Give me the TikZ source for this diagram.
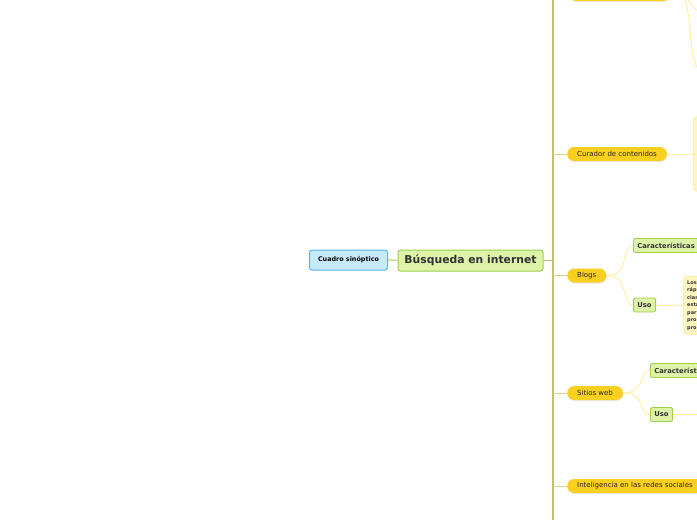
\documentclass[tikz,border=0pt]{standalone}
\usepackage{fontspec}
\setmainfont{DejaVu Sans}
\usetikzlibrary{positioning, shadows}
\definecolor{trunkOlive}{RGB}{198,191,100}
\definecolor{stemOlive}{RGB}{214,208,140}
\definecolor{pillYellow}{RGB}{250,208,32}
\definecolor{leafYellow}{RGB}{255,238,160}
\definecolor{noteFill}{RGB}{255,245,192}
\definecolor{noteEdge}{RGB}{250,234,160}
\definecolor{greenFill}{RGB}{222,242,168}
\definecolor{greenEdge}{RGB}{160,206,84}
\definecolor{blueFill}{RGB}{198,234,252}
\definecolor{blueEdge}{RGB}{92,180,230}
\definecolor{inkGray}{RGB}{51,51,51}

\tikzset{
  mainbox/.style={draw=greenEdge, fill=greenFill, line width=1pt, rounded corners=2.5pt,
    minimum width=145pt, minimum height=21pt, inner sep=0pt, text=inkGray,
    font=\fontsize{10.8}{12}\selectfont\bfseries},
  rootbox/.style={draw=blueEdge, fill=blueFill, line width=1pt, rounded corners=2.5pt,
    minimum width=78pt, minimum height=20pt, inner sep=0pt, text=black,
    font=\fontsize{6.4}{7.5}\selectfont\bfseries},
  topicpill/.style={fill=pillYellow, rounded corners=7pt, minimum height=14pt, inner xsep=10pt,
    inner ysep=0pt, anchor=west, text=black!85, font=\fontsize{7}{8}\selectfont,
    drop shadow={opacity=0.18, shadow xshift=0.6pt, shadow yshift=-1pt}},
  subbox/.style={draw=greenEdge, fill=greenFill, line width=0.8pt, rounded corners=2pt,
    minimum height=14pt, inner xsep=4pt, inner ysep=0pt, anchor=west, text=inkGray,
    font=\fontsize{6.8}{8}\selectfont\bfseries},
  notebox/.style={draw=noteEdge, fill=noteFill, line width=0.5pt, rounded corners=4pt,
    inner sep=0pt, anchor=west},
  trunk/.style={draw=trunkOlive, line width=1.6pt},
  stem/.style={draw=stemOlive, line width=0.9pt},
  leaf/.style={draw=leafYellow, line width=0.9pt},
}

\begin{document}
\begin{tikzpicture}[x=1pt,y=-1pt]
\useasboundingbox (0,0) rectangle (697,520);
\clip (0,0) rectangle (697,520);

% Central topic
\node[mainbox] (busqueda) at (470.5,260.5) {Búsqueda en internet};
\node[rootbox] (cuadro) at (348.5,260) {Cuadro sinóptico};
\draw[stem, draw=greenEdge] (cuadro) -- (busqueda);

% Trunk
\coordinate (trunkTop) at (553,-2);
\coordinate (trunkBot) at (553,522);
\draw[trunk] (trunkTop) -- (trunkBot);
\draw[trunk] (busqueda.east) -- (busqueda.east -| trunkTop);

% Topics
\node[topicpill, minimum width=101pt] (oculto) at (569,-6) {};
\node[topicpill] (curador) at (567,154) {Curador de contenidos};
\node[topicpill] (blogs) at (567,275.5) {Blogs};
\node[topicpill] (sitios) at (567,393) {Sitios web};
\node[topicpill] (redes) at (567,486) {Inteligencia en las redes sociales};
\foreach \t in {curador, blogs, sitios, redes}
  \draw[stem] (\t.west -| trunkTop) -- (\t.west);

% Hidden topic (top)
\coordinate (ocultoJ) at (681,-6);
\coordinate (ocultoA) at (700,11);
\coordinate (ocultoB) at (700,69);
\draw[leaf] (oculto.east) -- (ocultoJ);
\draw[leaf] (ocultoJ) .. controls (690,-6) and (690,11) .. (ocultoA);
\draw[leaf] (ocultoJ) .. controls (692,-6) and (688,69) .. (ocultoB);

% Curador de contenidos
\node[notebox, minimum width=40pt, minimum height=75pt] (curadorNota) at (693,154) {};
\draw[leaf] (curador.east) -- (curadorNota.west);

% Blogs
\node[subbox] (blogsCar) at (633,245.5) {Características};
\node[subbox] (blogsUso) at (633,305) {Uso};
\draw[leaf] (blogs.east) .. controls +(24,0) and +(-12,0) .. (blogsCar.west);
\draw[leaf] (blogs.east) .. controls +(24,0) and +(-12,0) .. (blogsUso.west);
\node[notebox, minimum width=60pt, minimum height=58pt, anchor=north west] (blogsNota) at (683,276) {};
\node[anchor=north west, align=left, inner sep=0pt, text=black!80,
  font=\fontsize{5}{7.5}\selectfont\bfseries] (blogsTexto) at (687,280.5)
  {Los\\ráp\\clar\\esta\\par\\pro\\pro};
\draw[leaf] (blogsUso.east) -- (blogsUso.east -| blogsNota.west);

% Sitios web
\node[subbox] (sitiosCar) at (650,370.5) {Características};
\node[subbox] (sitiosUso) at (650,414.5) {Uso};
\coordinate (sitiosNota) at (710,414.5);
\draw[leaf] (sitios.east) .. controls +(24,0) and +(-12,0) .. (sitiosCar.west);
\draw[leaf] (sitios.east) .. controls +(24,0) and +(-12,0) .. (sitiosUso.west);
\draw[leaf] (sitiosUso.east) -- (sitiosNota);
\end{tikzpicture}
\end{document}
